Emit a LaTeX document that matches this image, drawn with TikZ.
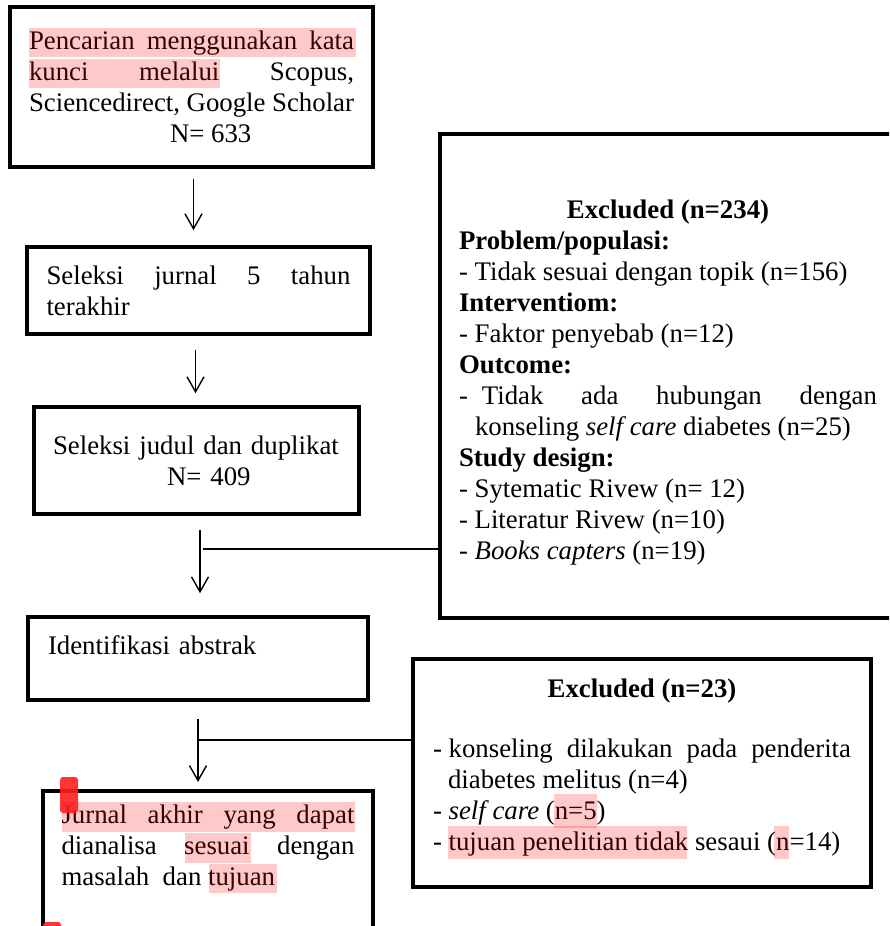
\documentclass[tikz,border=0pt]{standalone}
\usepackage{fontspec}
\setmainfont{Liberation Serif}
\usetikzlibrary{arrows.meta}
\definecolor{flagred}{RGB}{255,30,30}
\begin{document}
\begin{tikzpicture}[x=1pt, y=-1pt,
  box/.style={draw, rectangle, line width=3.6pt, inner ysep=0pt, font=\fontsize{26.8}{31}\selectfont},
  arrow/.style={-{Straight Barb[length=15pt,width=17pt]}, line width=1.4pt},
  link/.style={line width=1.4pt},
  hilite/.style={fill=red, fill opacity=0.21},
  flag/.style={fill=flagred, fill opacity=0.9, rounded corners=3pt}
]
\useasboundingbox (0,0) rectangle (889,926);
\clip (0,0) rectangle (889,926);

% Main flow on the left
\node[box, text width=325pt, inner xsep=19pt, minimum height=160pt, align=justify] (search) at (191.5,87)
  {Pencarian menggunakan kata\linebreak kunci melalui Scopus,\linebreak Sciencedirect, Google Scholar\par\hspace*{141pt}N= 633};
\node[box, text width=304pt, inner xsep=19.5pt, minimum height=87pt, align=justify] (journal) at (198.5,290.5)
  {Seleksi jurnal 5 tahun\linebreak terakhir};
\node[box, text width=287pt, inner xsep=19pt, minimum height=107pt, align=left] (title) at (196.5,460.5)
  {Seleksi judul dan duplikat\\\hspace*{114pt}N= 409};
\node[box, text width=300pt, inner xsep=20pt, minimum height=83pt, align=left] (abstract) at (198,658.5)
  {Identifikasi abstrak\\[-14pt]\strut};
\node[box, anchor=north, text width=293pt, inner xsep=18.5pt, inner ysep=14pt, align=justify] (final) at (208,789)
  {Jurnal akhir yang dapat\linebreak dianalisa sesuai dengan\linebreak masalah\ \ dan tujuan\par\strut\par\strut};

% Excluded boxes on the right
\node[box, text width=418pt, inner xsep=19pt, minimum height=484pt, align=justify] (excl1) at (668,376)
  {\makebox[418pt]{\rule{0pt}{32pt}\bfseries Excluded (n=234)}\par
   \textbf{Problem/populasi:}\par
   - Tidak sesuai dengan topik (n=156)\par
   \textbf{Interventiom:}\par
   - Faktor penyebab (n=12)\par
   \textbf{Outcome:}\par
   \hangindent=16pt -\hspace{14pt}Tidak ada hubungan dengan\linebreak konseling \textit{self care} diabetes (n=25)\par
   \textbf{Study design:}\par
   - Sytematic Rivew (n= 12)\par
   - Literatur Rivew (n=10)\par
   - \textit{Books capters} (n=19)};
\node[box, text width=418pt, inner xsep=20pt, minimum height=228pt, align=justify] (excl2) at (642,773)
  {\makebox[418pt]{\bfseries Excluded (n=23)}\par
   \strut\par\vspace{-2pt}
   \hangindent=15pt -\hspace{6.7pt}konseling dilakukan pada penderita\linebreak diabetes melitus (n=4)\par
   - \textit{self care} (n=5)\par
   - tujuan penelitian tidak sesaui (n=14)\rule[-16pt]{0pt}{1pt}};

% Highlights over the text
\fill[hilite] (29,28) rectangle (356,57);
\fill[hilite] (29,59) rectangle (220,88);
\fill[hilite] (62,802) rectangle (355,832);
\fill[hilite] (185,833) rectangle (251,863);
\fill[hilite] (209,864) rectangle (277,893);
\fill[hilite] (554,794) rectangle (597,828);
\fill[hilite] (448,826) rectangle (687,859);
\fill[hilite] (774,826) rectangle (789,859);

% Arrows
\draw[arrow, shorten <=10pt, shorten >=15pt] ([xshift=2pt]search.south) -- ([xshift=2pt]search.south |- journal.north);
\draw[arrow, shorten <=14pt, shorten >=12pt] ([xshift=-3pt]journal.south) -- ([xshift=-3pt]journal.south |- title.north);
\draw[arrow, shorten <=14pt, shorten >=22pt] ([xshift=3.5pt]title.south) -- ([xshift=3.5pt]title.south |- abstract.north);
\draw[arrow, shorten <=17pt, shorten >=7pt] (abstract.south) -- (abstract.south |- final.north);

% Branches to the excluded boxes
\coordinate (join1) at (203,549);
\coordinate (join2) at (198,740);
\draw[link] (join1) -- (join1 -| excl1.west);
\draw[link] (join2) -- (join2 -| excl2.west);

% Red marks
\fill[flag] (60,777) rectangle (78,813);
\fill[flag] (43,922) rectangle (61,958);
\end{tikzpicture}
\end{document}
